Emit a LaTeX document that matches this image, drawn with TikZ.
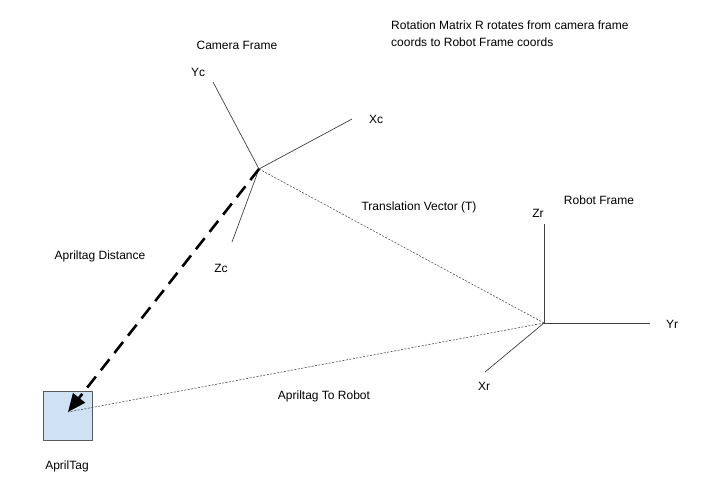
\documentclass[tikz,border=0pt]{standalone}
\usepackage{fontspec}
\setmainfont{Liberation Sans}
\usetikzlibrary{arrows.meta}
\definecolor{tagfill}{RGB}{207,226,243}
\begin{document}
\begin{tikzpicture}[x=1pt, y=-1pt, line cap=butt, line join=round,
    lbl/.style={inner sep=0pt, font=\fontsize{12}{14}\selectfont},
    axis/.style={line width=0.7pt, draw=black!75},
    dotline/.style={line width=0.6pt, draw=black!70, dash pattern=on 2pt off 1.5pt},
    dist/.style={line width=2.6pt, dash pattern=on 14pt off 8pt,
      -{Triangle[length=18pt, width=15pt]}},
    tagbox/.style={draw=black!65, fill=tagfill, line width=0.8pt}]
  \useasboundingbox (0,0) rectangle (701,481);
  % camera frame
  \coordinate (cam) at (259,169);
  \coordinate (yc) at (213,82);
  \coordinate (xc) at (352,119);
  \coordinate (zc) at (232,242);
  \draw[axis] (cam) -- (yc);
  \draw[axis] (cam) -- (xc);
  \draw[axis] (cam) -- (zc);
  \node[lbl] at (237,45) {Camera Frame};
  \node[lbl] at (198,72) {Yc};
  \node[lbl] at (376,119) {Xc};
  \node[lbl] at (221,268) {Zc};
  % robot frame
  \coordinate (rob) at (544,323);
  \coordinate (zr) at (544,224);
  \coordinate (yr) at (650,323);
  \coordinate (xr) at (485,372);
  \draw[axis] (rob) -- (zr);
  \draw[axis] (rob) -- (yr);
  \draw[axis] (rob) -- (xr);
  \node[lbl] at (599,200) {Robot Frame};
  \node[lbl] at (538,213) {Zr};
  \node[lbl] at (672,324) {Yr};
  \node[lbl] at (484,386) {Xr};
  % apriltag
  \node[tagbox, minimum size=49pt, inner sep=0pt] (tag) at (67.5,416) {};
  \coordinate (tagc) at (68,412);
  \node[lbl] at (67,466) {AprilTag};
  % vectors
  \draw[dotline] (cam) -- (rob);
  \draw[dotline] (rob) -- (tagc);
  \draw[dist] (cam) -- (tagc);
  \node[lbl] at (419,207) {Translation Vector (T)};
  \node[lbl] at (100,256) {Apriltag Distance};
  \node[lbl] at (324,396) {Apriltag To Robot};
  \node[lbl, anchor=north west, align=left, font=\fontsize{12}{17}\selectfont]
    at (391,21) {Rotation Matrix R rotates from camera frame\\coords to Robot Frame coords};
\end{tikzpicture}
\end{document}
